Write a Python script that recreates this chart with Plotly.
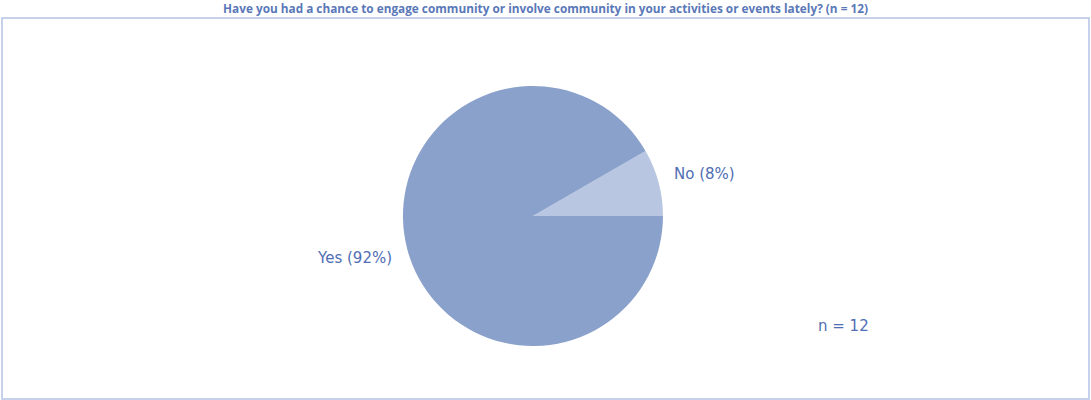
import math
import plotly.graph_objects as go

# Survey responses
labels = ["No", "Yes"]
counts = [1, 11]
n_total = sum(counts)
title_text = ("Have you had a chance to engage community or involve community "
              f"in your activities or events lately? (n = {n_total})")

slice_colors = ["#b8c6e1", "#8aa1cc"]
text_color = "#4f6eb3"

W, H = 1091, 400
pie_domain_x = [0.0, 0.977]
pie_domain_y = [0.135, 0.785]
start_angle = 30  # degrees, counter-clockwise from 3 o'clock; slices run clockwise

fig = go.Figure(
    go.Pie(
        labels=labels,
        values=counts,
        sort=False,
        direction="clockwise",
        rotation=90 - start_angle,
        marker=dict(colors=slice_colors, line=dict(width=0)),
        textinfo="none",
        hoverinfo="label+value+percent",
        showlegend=False,
        automargin=False,
        domain=dict(x=pie_domain_x, y=pie_domain_y),
    )
)

# Outside labels placed along each slice's mid-angle
cx = sum(pie_domain_x) / 2 * W
cy = (1 - sum(pie_domain_y) / 2) * H
radius = (pie_domain_y[1] - pie_domain_y[0]) * H / 2
label_r = radius + 14
annotations = []
acc = 0
for lab, val in zip(labels, counts):
    pct = val / n_total
    mid = math.radians(start_angle - 360 * (acc + val / 2) / n_total)
    acc += val
    px = cx + label_r * math.cos(mid)
    py = cy - label_r * math.sin(mid)
    right_side = math.cos(mid) >= 0
    annotations.append(dict(
        text=f"{lab} ({pct:.0%})", xref="paper", yref="paper",
        x=px / W, y=1 - py / H,
        xanchor="left" if right_side else "right", yanchor="middle",
        yshift=5 if math.sin(mid) >= 0 else -5,
        showarrow=False,
        font=dict(family="DejaVu Sans", size=15, color=text_color),
    ))

annotations.append(dict(
    text=f"n = {n_total}", xref="paper", yref="paper",
    x=843 / W, y=1 - 326 / H, xanchor="center", yanchor="middle",
    showarrow=False,
    font=dict(family="DejaVu Sans", size=15, color=text_color),
))

fig.update_layout(
    width=W,
    height=H,
    autosize=False,
    margin=dict(l=0, r=0, t=0, b=0, pad=0, autoexpand=False),
    paper_bgcolor="white",
    plot_bgcolor="white",
    title=dict(
        text=f"<b>{title_text}</b>",
        x=0.5,
        xanchor="center",
        y=1 - 9 / H,
        yanchor="middle",
        font=dict(family="Open Sans", size=11.8, color="#5a78b8"),
    ),
    shapes=[
        dict(
            type="rect", xref="paper", yref="paper",
            x0=2 / W, x1=1089 / W, y0=1 / H, y1=1 - 18 / H,
            line=dict(color="#b5c4e4", width=1.5),
            fillcolor="rgba(0,0,0,0)",
        )
    ],
    annotations=annotations,
)

fig.write_html("out.html")
